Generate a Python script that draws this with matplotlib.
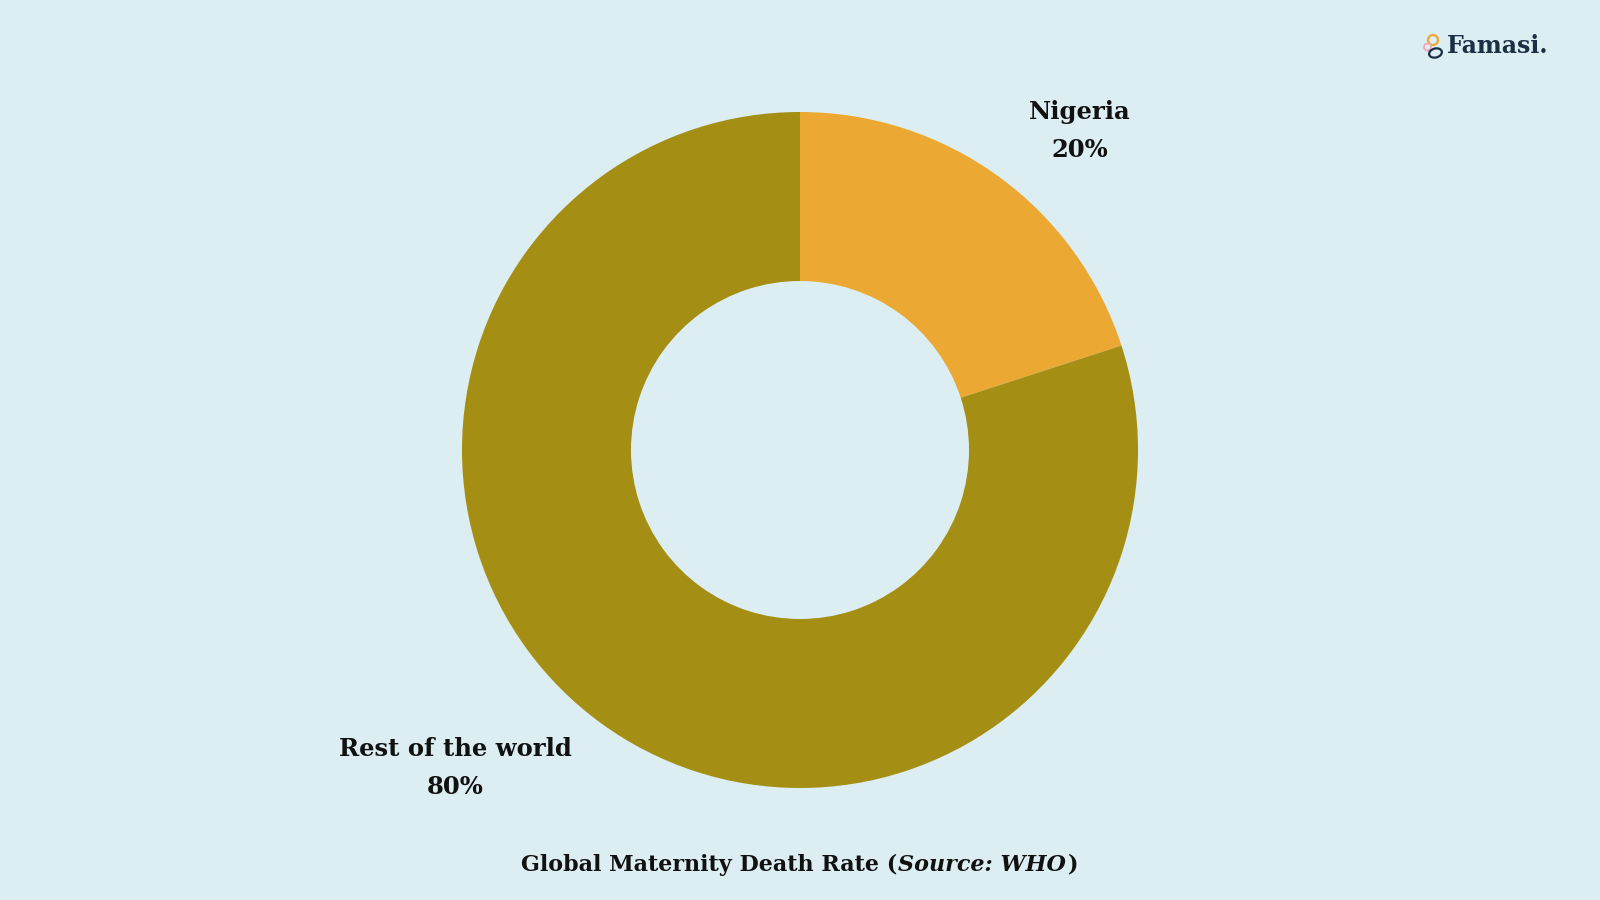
import matplotlib
matplotlib.use("Agg")
import matplotlib.pyplot as plt
from matplotlib.patches import Circle, Ellipse

labels = ["Nigeria", "Rest of the world"]
shares = [20, 80]
colors = ["#eba934", "#a48e13"]
title = "Global Maternity Death Rate"
source = "Source: WHO"
brand = "Famasi."

bg = "#ddeef2"
ink = "#111111"
plt.rcParams["font.family"] = ["DejaVu Serif"]

fig = plt.figure(figsize=(16, 9), dpi=100, facecolor=bg)
ax = fig.add_axes([0, 0, 1, 1])
ax.set_facecolor(bg)

# donut, drawn in pixel-like data units
ax.pie(shares, colors=colors, startangle=90, counterclock=False,
       center=(800, 450), radius=338,
       wedgeprops=dict(width=169, linewidth=0))

ax.set_xlim(0, 1600)
ax.set_ylim(0, 900)
ax.set_aspect("equal")
ax.axis("off")

# slice labels
ax.text(1080, 769, f"{labels[0]}\n{shares[0]}%", ha="center", va="center",
        fontsize=17.5, fontweight="bold", color=ink, linespacing=1.75)
ax.text(455, 132, f"{labels[1]}\n{shares[1]}%", ha="center", va="center",
        fontsize=17.5, fontweight="bold", color=ink, linespacing=1.75)

# caption with italic source
kw = dict(ha="left", va="center", fontsize=16, fontweight="bold", color=ink)
cap = ax.text(0, 35, f"{title} (", **kw)
src = ax.text(0, 35, source, fontstyle="italic", **kw)
end = ax.text(0, 35, ")", **kw)
fig.canvas.draw()
r = fig.canvas.get_renderer()
w = [t.get_window_extent(r).width for t in (cap, src, end)]
x0 = 800 - (sum(w) + 3) / 2
cap.set_x(x0)
src.set_x(x0 + w[0] + 1)
end.set_x(x0 + w[0] + w[1] + 3)

# logo
ax.add_patch(Circle((1433, 860), 5, fill=False, ec="#eba934", lw=1.6))
ax.add_patch(Circle((1427.5, 853), 3.5, fill=False, ec="#f0a8b8", lw=1.3))
ax.add_patch(Ellipse((1435.5, 847), 13, 9, angle=15, fill=False, ec="#1b2f45", lw=1.6))
ax.text(1447, 854, brand, ha="left", va="center", fontsize=17,
        fontweight="bold", color="#1b2f45")

fig.savefig("out.png", dpi=100, facecolor=bg)
